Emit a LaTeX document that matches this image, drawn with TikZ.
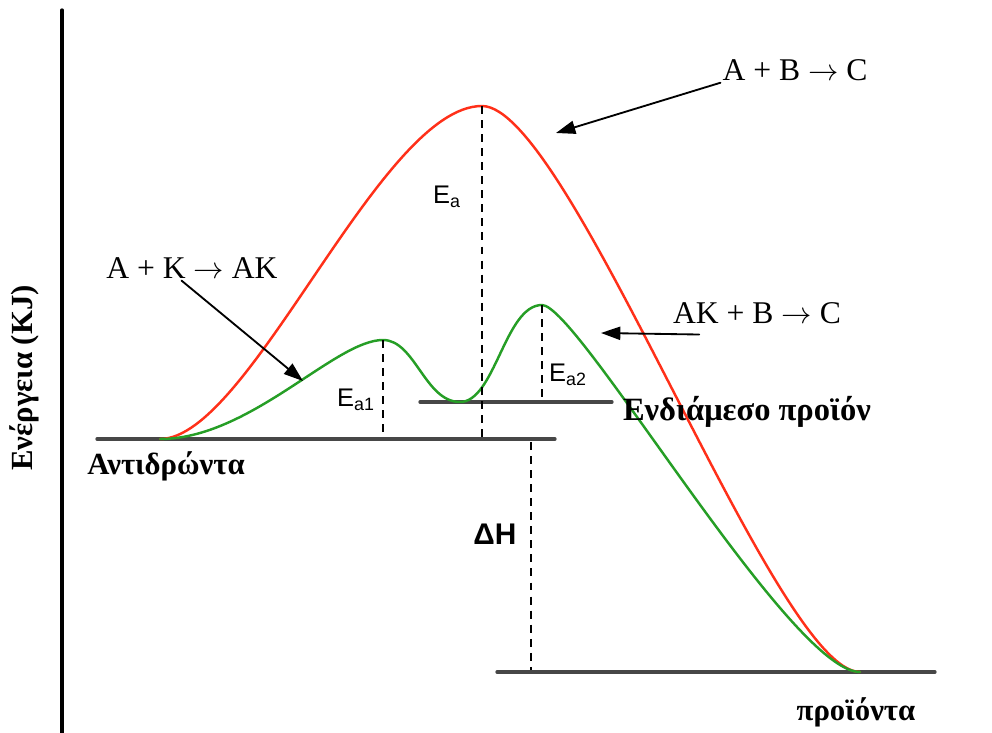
\documentclass[tikz,border=0pt]{standalone}
\usepackage{fontspec}
\setmainfont{Liberation Serif}
\setsansfont{Liberation Sans}
\usetikzlibrary{arrows.meta}
\begin{document}
\begin{tikzpicture}[x=0.02cm, y=-0.02cm, >={Triangle[length=11pt, width=7.5pt]}, line join=round, line cap=round]
	\tikzset{
		level/.style={line width=1.9pt, draw=black!72},
		guide/.style={line width=1.3pt, dash pattern=on 4.5pt off 3.5pt, line cap=butt},
		pointer/.style={->, line width=1.05pt},
		reaction/.style={font=\fontsize{18}{21}\selectfont, inner sep=1pt},
		state/.style={font=\fontsize{17.5}{20}\selectfont\bfseries, inner sep=1pt},
		ealabel/.style={font=\fontsize{14.5}{16}\selectfont\sffamily, inner sep=1pt},
	}
	\useasboundingbox (0,0) rectangle (992,733);
	% Trục năng lượng
	\draw[line width=1.9pt] (62,10) -- (62,733);
	\node[state, rotate=90] (energy) at (24,378) {Ενέργεια (KJ)};
	% Các mức năng lượng
	\coordinate (R1) at (97,439);  \coordinate (R2) at (555,439);
	\coordinate (I1) at (420,402); \coordinate (I2) at (612,402);
	\coordinate (P1) at (497,672); \coordinate (P2) at (935,672);
	\draw[level] (R1) -- (R2);
	\draw[level] (I1) -- (I2);
	\draw[level] (P1) -- (P2);
	% Các điểm của đường cong
	\coordinate (S) at (160,439);
	\coordinate (Top) at (482,106);
	\coordinate (Top1) at (383,340);
	\coordinate (Low) at (460,402);
	\coordinate (Top2) at (542,305);
	\coordinate (E) at (860,672);
	% Phản ứng không xúc tác
	\draw[line width=1.4pt, red!80!orange!90!white] (S) .. controls (250,439) and (380,106) .. (Top)
		.. controls (570,106) and (775,672) .. (E);
	% Phản ứng có xúc tác
	\draw[line width=1.4pt, green!55!black!85!white] (S) .. controls (250,439) and (335,340) .. (Top1)
		.. controls (415,340) and (425,402) .. (Low)
		.. controls (495,402) and (505,305) .. (Top2)
		.. controls (578,305) and (790,672) .. (E);
	% Đường dóng
	\coordinate (TopB) at (482,439);
	\coordinate (Top1B) at (383,432);
	\coordinate (Top2B) at (542,398);
	\coordinate (DH1) at (531,442);
	\coordinate (DH2) at (531,670);
	\draw[guide] (Top) -- (TopB);
	\draw[guide] (Top1) -- (Top1B);
	\draw[guide] (Top2) -- (Top2B);
	\draw[guide] (DH1) -- (DH2);
	% Nhãn năng lượng hoạt hóa
	\node[ealabel] (ea) at (447,197) {E\textsubscript{a}};
	\node[ealabel] (ea1) at (356,400) {E\textsubscript{a1}};
	\node[ealabel] (ea2) at (568,375) {E\textsubscript{a2}};
	\node[ealabel, font=\fontsize{17}{19}\selectfont\sffamily\bfseries] (dh) at (495,534) {ΔH};
	% Nhãn trạng thái
	\node[state] (reactants) at (166,466) {Αντιδρώντα};
	\node[state, font=\fontsize{18.5}{21}\selectfont\bfseries] (intermediate) at (747,412) {Ενδιάμεσο προϊόν};
	\node[state] (products) at (856,712) {προϊόντα};
	% Các phương trình và mũi tên
	\node[reaction] (abc) at (795,70) {A + B $\rightarrow$ C};
	\node[reaction] (akl) at (192,268) {A + K $\rightarrow$ AK};
	\node[reaction] (akb) at (757,313) {AK + B $\rightarrow$ C};
	\coordinate (hitR) at (556,133);
	\coordinate (hitG1) at (303,381);
	\coordinate (hitG2) at (601,333);
	\draw[pointer] (abc.south west) -- (hitR);
	\draw[pointer] ([xshift=-6pt]akl.south) -- (hitG1);
	\draw[pointer] ([xshift=16pt, yshift=-5pt]akb.south west) -- (hitG2);
\end{tikzpicture}
\end{document}
